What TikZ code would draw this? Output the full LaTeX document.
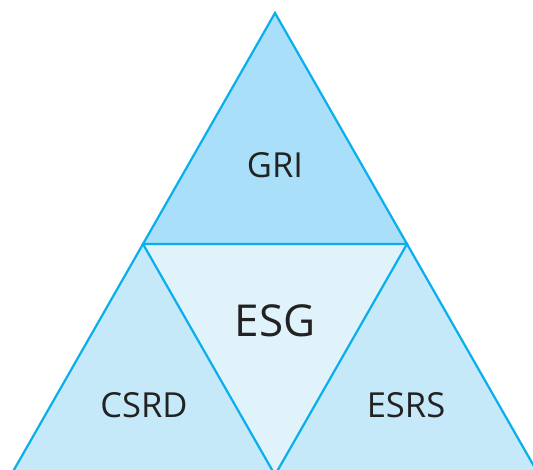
\documentclass[tikz,border=0pt]{standalone}
\usepackage{fontspec}
\setmainfont{Open Sans}
\definecolor{edgec}{HTML}{0AAEEC}
\definecolor{topc}{HTML}{A9DFF9}
\definecolor{midc}{HTML}{E0F3FB}
\definecolor{sidec}{HTML}{C6E9F9}
\definecolor{txtc}{HTML}{222222}
\begin{document}
\begin{tikzpicture}[x=1pt,y=-1pt,
  tri/.style={draw=edgec,line width=2.2pt,line join=miter},
  lbl/.style={text=txtc,font=\fontsize{34.5}{34.5}\selectfont,inner sep=0pt},
  biglbl/.style={text=txtc,font=\fontsize{44}{44}\selectfont,inner sep=0pt}]
\useasboundingbox (0,0) rectangle (533,469);
\clip (0,0) rectangle (533,469);
\coordinate (A) at (275,13);
\coordinate (L) at (143,244);
\coordinate (R) at (407,244);
\coordinate (B) at (275,475);
\coordinate (BL) at (11,475);
\coordinate (BR) at (539,475);
\fill[sidec] (L) -- (BL) -- (B) -- cycle;
\fill[sidec] (R) -- (B) -- (BR) -- cycle;
\fill[midc] (L) -- (R) -- (B) -- cycle;
\fill[topc] (A) -- (L) -- (R) -- cycle;
\draw[tri] (L) -- (BL) -- (B) -- cycle;
\draw[tri] (R) -- (B) -- (BR) -- cycle;
\draw[tri] (A) -- (L) -- (R) -- cycle;
\node[lbl] (gri) at (275,165) {GRI};
\node[biglbl] (esg) at (275,321) {ESG};
\node[lbl] (csrd) at (144,405) {CSRD};
\node[lbl] (esrs) at (406,405) {ESRS};
\end{tikzpicture}
\end{document}
